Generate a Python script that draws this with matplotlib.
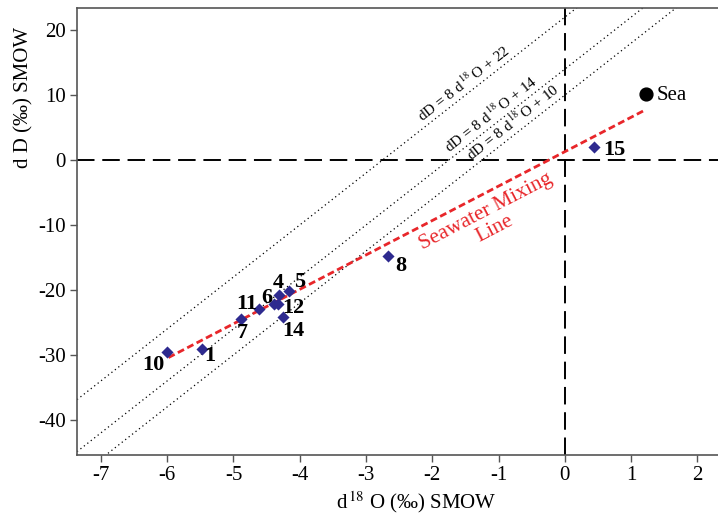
import matplotlib
matplotlib.use("Agg")
import matplotlib.pyplot as plt
import numpy as np

plt.rcParams['font.family'] = ['Liberation Serif', 'DejaVu Serif']
plt.rcParams['mathtext.fontset'] = 'stix'

# Groundwater samples: delta-18O and delta-D (per mille, SMOW)
sample_ids = ['10', '1', '7', '11', '6', '4', '12', '5', '14', '8', '15']
d18o = [-6.00, -5.48, -4.89, -4.62, -4.39, -4.32, -4.33, -4.16, -4.25, -2.67, 0.44]
dD = [-29.5, -29.1, -24.4, -23.0, -22.2, -20.8, -22.2, -20.2, -24.2, -14.8, 2.0]

# Seawater end member
sea_d18o = 1.22
sea_dD = 10.2

# Seawater mixing line end points
mix_x = [-5.98, 1.21]
mix_y = [-30.4, 7.7]

# Meteoric water lines: dD = 8 d18O + intercept
mwl_intercepts = [22, 14, 10]

xticks = [-7, -6, -5, -4, -3, -2, -1, 0, 1, 2]
yticks = [-40, -30, -20, -10, 0, 10, 20]

fig = plt.figure(figsize=(7.18, 5.15), dpi=100)
ax = fig.add_axes([77 / 718, 1 - 455 / 515, 1 - 77 / 718, (455 - 8) / 515])
xlim = (-7.36, 2.31)
ylim = (-45.4, 23.4)
ax.set_xlim(*xlim)
ax.set_ylim(*ylim)

# data-to-pixel aspect, used for rotating annotations along lines
px_per_x = 641 / (xlim[1] - xlim[0])
px_per_y = 447 / (ylim[1] - ylim[0])

# meteoric water lines
xs = np.array(xlim)
for b in mwl_intercepts:
    ax.plot(xs, 8 * xs + b, linestyle=(0, (1, 2.5)), color='black', lw=0.9, zorder=1)

# reference axes through zero
ax.axhline(0, color='black', lw=1.4, linestyle=(0, (9, 4)), zorder=1)
ax.axvline(0, color='black', lw=1.4, linestyle=(0, (9, 4)), zorder=1)

# mixing line
ax.plot(mix_x, mix_y, color='#e8262a', lw=2, linestyle=(0, (2.5, 1.3)), zorder=2)

# samples
ax.scatter(d18o, dD, marker='D', s=38, color='#2e2a8f', zorder=3, linewidths=0)
ax.scatter([sea_d18o], [sea_dD], marker='o', s=85, color='black', zorder=3)
ax.text(sea_d18o + 0.39, sea_dD - 0.3, 'Sea', fontsize=15, va='center', ha='center')

label_offsets = {
    '10': (-0.21, -2.1),
    '1': (0.13, -1.0),
    '7': (0.03, -2.2),
    '11': (-0.18, 0.9),
    '6': (-0.10, 1.0),
    '4': (-0.01, 1.9),
    '12': (0.23, -0.5),
    '5': (0.16, 1.4),
    '14': (0.15, -2.1),
    '8': (0.20, -1.5),
    '15': (0.30, -0.4),
}
for sid, x, y in zip(sample_ids, d18o, dD):
    dx, dy = label_offsets[sid]
    ax.text(x + dx, y + dy, sid, fontsize=16, fontweight='bold',
            ha='center', va='center', zorder=4)

# line annotations
angle = np.degrees(np.arctan(8 * px_per_y / px_per_x))
mwl_text_x = {22: -1.45, 14: -1.04, 10: -0.71}
for b in mwl_intercepts:
    x = mwl_text_x[b]
    ax.text(x, 8 * x + b + 0.4, r'dD = 8 d$^{\,18}\!$ O + %d' % b, fontsize=11,
            rotation=angle, rotation_mode='anchor', ha='center', va='bottom', zorder=4)

mix_slope = (mix_y[1] - mix_y[0]) / (mix_x[1] - mix_x[0])
mix_angle = np.degrees(np.arctan(mix_slope * px_per_y / px_per_x))
ax.text(-1.13, -9.3, 'Seawater Mixing\nLine', color='#e8262a', fontsize=15.5,
        rotation=mix_angle, ha='center', va='center', rotation_mode='anchor',
        linespacing=1.05, zorder=4)

ax.set_xticks(xticks)
ax.set_yticks(yticks)
ax.set_xticklabels([str(t) for t in xticks])
ax.set_yticklabels([str(t) for t in yticks])
ax.tick_params(labelsize=15, direction='out', length=5, width=1, color='#555555', pad=3)
ax.spines['right'].set_visible(False)
for s in ['left', 'bottom', 'top']:
    ax.spines[s].set_color('#555555')
    ax.spines[s].set_linewidth(1.2)

ax.set_xlabel('d$^{\\,18}$ O (‰) SMOW', fontsize=15)
ax.set_ylabel('d D (‰) SMOW', fontsize=15)
ax.xaxis.set_label_coords((416 - 77) / 641, -(489 - 455) / 447, transform=ax.transAxes)
ax.yaxis.set_label_coords(-(77 - 33) / 641, (455 - 97) / 447, transform=ax.transAxes)

fig.savefig('out.png', dpi=100)
